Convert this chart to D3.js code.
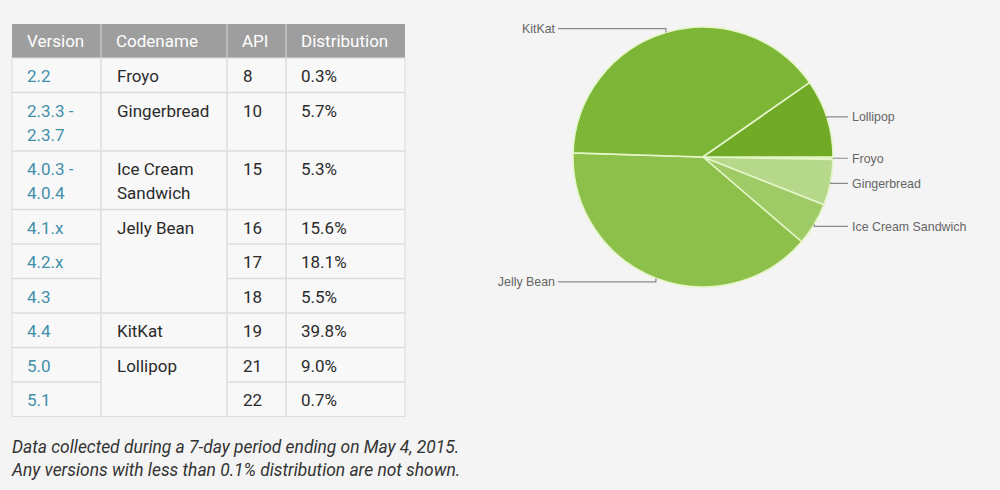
<!DOCTYPE html>
<html>
<head>
<meta charset="utf-8">
<script src="https://cdn.jsdelivr.net/npm/d3@7/dist/d3.min.js"></script>
<style>
  html, body { margin: 0; padding: 0; background: #f4f4f4; }
  svg { display: block; }
</style>
</head>
<body>
<svg id="chart" width="1000" height="490"></svg>
<script>
// ---- data ----
const headers = ["Version", "Codename", "API", "Distribution"];
const versions = [["2.2"], ["2.3.3 -", "2.3.7"], ["4.0.3 -", "4.0.4"], ["4.1.x"], ["4.2.x"], ["4.3"], ["4.4"], ["5.0"], ["5.1"]];
const apiLevels = [8, 10, 15, 16, 17, 18, 19, 21, 22];
const distribution = [0.3, 5.7, 5.3, 15.6, 18.1, 5.5, 39.8, 9.0, 0.7];
const codenames = ["Froyo", "Gingerbread", "Ice Cream Sandwich", "Jelly Bean", "KitKat", "Lollipop"];
const codenameLines = [["Froyo"], ["Gingerbread"], ["Ice Cream", "Sandwich"], ["Jelly Bean"], ["KitKat"], ["Lollipop"]];
const codenameOfRow = [0, 1, 2, 3, 3, 3, 4, 5, 5];
const footnotes = ["Data collected during a 7-day period ending on May 4, 2015.",
                   "Any versions with less than 0.1% distribution are not shown."];

// ---- styles ----
const sliceColors = ["#dcefc4", "#b5d88b", "#9fcb66", "#8dc04a", "#7db537", "#70aa26"];
const svg = d3.select("#chart");

// ---- table ----
const headerTop = 24, headerH = 34;
const colX = [12, 101, 227, 286, 405];
const baseRowH = 34.5, lineH = 24, padX = 15;

const isFirstOfGroup = i => codenameOfRow.indexOf(codenameOfRow[i]) === i;
const rowLines = versions.map((v, i) => Math.max(v.length, isFirstOfGroup(i) ? codenameLines[codenameOfRow[i]].length : 1));
const rowH = rowLines.map(n => baseRowH + lineH * (n - 1));
const rowTop = [];
rowLines.reduce((acc, _, i) => { rowTop[i] = acc; return acc + rowH[i]; }, headerTop + headerH);
const tableBottom = rowTop[rowTop.length - 1] + rowH[rowH.length - 1];

const tbl = svg.append("g").attr("font-family", "Roboto, 'Open Sans', sans-serif");

// header
tbl.append("rect").attr("x", colX[0]).attr("y", headerTop)
  .attr("width", colX[4] - colX[0]).attr("height", headerH).attr("fill", "#9e9e9e");
tbl.selectAll(".hsep").data(colX.slice(1, 4)).join("line")
  .attr("x1", d => d).attr("x2", d => d).attr("y1", headerTop).attr("y2", headerTop + headerH)
  .attr("stroke", "#c4c4c4").attr("stroke-width", 1.5);
tbl.selectAll(".htext").data(headers).join("text")
  .attr("x", (d, i) => colX[i] + padX).attr("y", headerTop + 23)
  .attr("fill", "#ffffff").attr("font-size", 17).text(d => d);

// body background
tbl.append("rect").attr("x", colX[0]).attr("y", headerTop + headerH)
  .attr("width", colX[4] - colX[0]).attr("height", tableBottom - headerTop - headerH)
  .attr("fill", "#f8f8f8").attr("stroke", "#dcdcdc").attr("stroke-width", 1);

// vertical separators
tbl.selectAll(".vsep").data(colX.slice(1, 4)).join("line")
  .attr("x1", d => d).attr("x2", d => d).attr("y1", headerTop + headerH).attr("y2", tableBottom)
  .attr("stroke", "#dcdcdc").attr("stroke-width", 1.5);

// horizontal separators (skip codename column within merged groups)
versions.forEach((v, i) => {
  if (i === 0) return;
  const y = rowTop[i];
  const merged = codenameOfRow[i] === codenameOfRow[i - 1];
  const segs = merged ? [[colX[0], colX[1]], [colX[2], colX[4]]] : [[colX[0], colX[4]]];
  segs.forEach(s => tbl.append("line").attr("x1", s[0]).attr("x2", s[1]).attr("y1", y).attr("y2", y)
    .attr("stroke", "#dcdcdc").attr("stroke-width", 1.5));
});

// cell texts
function cellText(x, y, lines, color) {
  const t = tbl.append("text").attr("x", x).attr("y", y).attr("fill", color).attr("font-size", 17);
  lines.forEach((l, k) => t.append("tspan").attr("x", x).attr("y", y + k * lineH).text(l));
}
versions.forEach((v, i) => {
  const y = rowTop[i] + 24;
  cellText(colX[0] + padX, y, v, "#4290aa");
  if (isFirstOfGroup(i)) cellText(colX[1] + padX + 1, y, codenameLines[codenameOfRow[i]], "#2b2b2b");
  cellText(colX[2] + padX + 1, y, [String(apiLevels[i])], "#2b2b2b");
  cellText(colX[3] + padX, y, [distribution[i].toFixed(1) + "%"], "#2b2b2b");
});

// footnotes
svg.append("g").selectAll("text").data(footnotes).join("text")
  .attr("x", 12).attr("y", (d, i) => tableBottom + 36 + i * 23.5)
  .attr("font-family", "Roboto, 'Open Sans', sans-serif").attr("font-style", "italic")
  .attr("font-size", 17.4).attr("fill", "#333").text(d => d);

// ---- pie ----
const pieData = codenames.map((name, k) => ({
  name,
  value: d3.sum(distribution.filter((_, i) => codenameOfRow[i] === k))
}));
const cx = 703, cy = 157, radius = 130;
const pie = d3.pie().value(d => d.value).sort(null)
  .startAngle(Math.PI / 2).endAngle(Math.PI / 2 + 2 * Math.PI);
const arcs = pie(pieData);
const arc = d3.arc().innerRadius(0).outerRadius(radius);
const color = d3.scaleOrdinal().domain(codenames).range(sliceColors);

const pg = svg.append("g").attr("transform", `translate(${cx},${cy})`);
pg.selectAll("path").data(arcs).join("path")
  .attr("d", arc).attr("fill", d => color(d.data.name))
  .attr("stroke", "#e4f6c8").attr("stroke-width", 1.6).attr("stroke-linejoin", "round");

// labels
const lg = pg.append("g").attr("font-family", "'Liberation Sans', Arial, sans-serif").attr("font-size", 12.4);
arcs.forEach(d => {
  const a = (d.startAngle + d.endAngle) / 2;
  const px = radius * Math.sin(a), py = -radius * Math.cos(a);
  const ly = py + 4 * (py / radius);
  const right = px > 0;
  const lx = right ? 145 : -145;
  lg.append("path")
    .attr("d", `M${px},${py}L${px},${ly}L${lx},${ly}`)
    .attr("fill", "none").attr("stroke", "#8a8a8a").attr("stroke-width", 1.2);
  lg.append("text").attr("x", right ? lx + 4 : lx - 3).attr("y", ly).attr("dy", "0.36em")
    .attr("text-anchor", right ? "start" : "end").attr("fill", "#666")
    .text(d.data.name);
});
</script>
</body>
</html>
